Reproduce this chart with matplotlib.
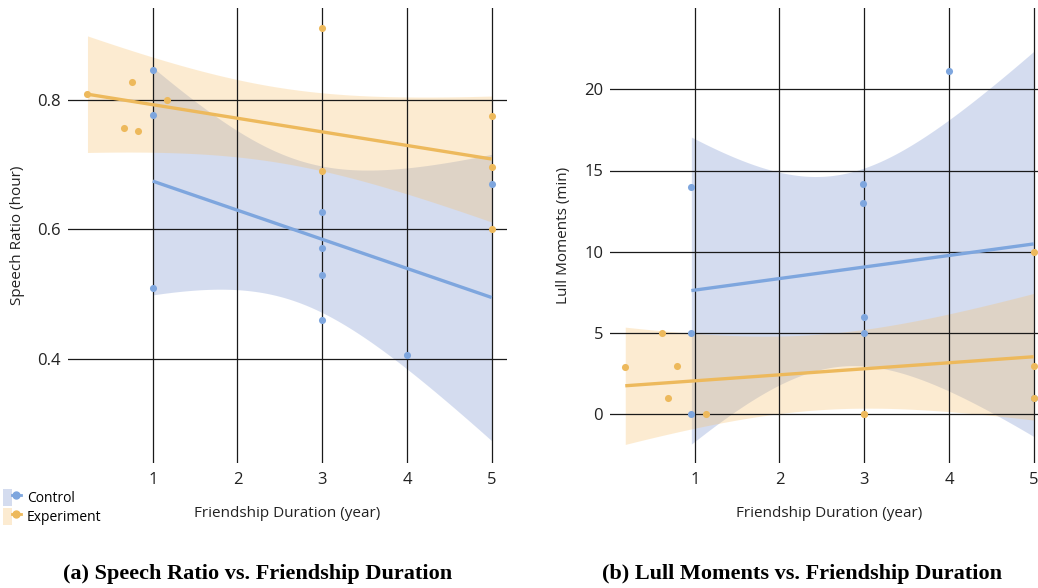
import matplotlib
matplotlib.use("Agg")
import matplotlib.pyplot as plt
import numpy as np
from math import gamma, pi, sqrt
from matplotlib.patches import Patch
from matplotlib.lines import Line2D
from matplotlib.legend_handler import HandlerTuple

# ---- data ----
left_ctrl_x = [1, 1, 1, 3, 3, 3, 3, 4, 5]
left_ctrl_y = [0.845, 0.776, 0.51, 0.626, 0.572, 0.530, 0.461, 0.406, 0.670]
left_exp_x = [0.23, 0.66, 0.75, 0.83, 1.17, 3, 3, 5, 5, 5]
left_exp_y = [0.809, 0.756, 0.827, 0.751, 0.800, 0.910, 0.690, 0.775, 0.696, 0.600]

right_ctrl_x = [0.96, 0.96, 0.96, 2.98, 2.98, 3, 3, 4, 5]
right_ctrl_y = [14, 5, 0, 14.2, 13, 6, 5, 21.1, 1]
right_exp_x = [0.18, 0.61, 0.69, 0.79, 1.13, 3, 3, 5, 5, 5]
right_exp_y = [2.9, 5, 1, 3, 0, 0, 0, 10, 3, 1]

groups = ["Control", "Experiment"]
x_ticks = [1, 2, 3, 4, 5]
left_yticks = [0.4, 0.6, 0.8]
right_yticks = [0, 5, 10, 15, 20]

line_colors = {"Control": "#7ea6de", "Experiment": "#edb95c"}
band_colors = {"Control": "#738ecd", "Experiment": "#f8c069"}

plt.rcParams['font.family'] = ['Open Sans', 'DejaVu Sans']


def t_ppf(p, df):
    c = gamma((df + 1) / 2) / (sqrt(df * pi) * gamma(df / 2))
    xs = np.linspace(0, 20, 400001)
    pdf = c * (1 + xs ** 2 / df) ** (-(df + 1) / 2)
    cdf = 0.5 + np.concatenate([[0], np.cumsum((pdf[1:] + pdf[:-1]) / 2 * np.diff(xs))])
    return float(np.interp(p, cdf, xs))


def fit_band(xs, ys, level=0.95):
    x = np.asarray(xs, float)
    y = np.asarray(ys, float)
    n = len(x)
    b1, b0 = np.polyfit(x, y, 1)
    resid = y - (b0 + b1 * x)
    s = np.sqrt(np.sum(resid ** 2) / (n - 2))
    xbar = x.mean()
    sxx = np.sum((x - xbar) ** 2)
    grid = np.linspace(x.min(), x.max(), 200)
    yhat = b0 + b1 * grid
    tval = t_ppf(0.5 + level / 2, n - 2)
    half = tval * s * np.sqrt(1 / n + (grid - xbar) ** 2 / sxx)
    return grid, yhat, yhat - half, yhat + half


fig = plt.figure(figsize=(10.38, 5.88), dpi=100)
W, H = 1038, 588
axL = fig.add_axes([68 / W, 1 - 463 / H, 439 / W, 455 / H])
axR = fig.add_axes([610 / W, 1 - 463 / H, 439 / W, 455 / H])


def draw(ax, data, ylabel, yticks, ylim):
    for g, (xs, ys) in zip(groups, data):
        grid, yhat, lo, hi = fit_band(xs, ys)
        ax.fill_between(grid, lo, hi, color=band_colors[g], alpha=0.3,
                        linewidth=0, zorder=1)
        ax.plot(grid, yhat, color=line_colors[g], lw=2.4, zorder=2.6,
                solid_capstyle="butt")
        ax.scatter(xs, ys, s=26, color=line_colors[g], linewidths=0, zorder=3)
    ax.set_xlim(0, 5.18)
    ax.set_ylim(*ylim)
    ax.set_xticks(x_ticks)
    ax.set_yticks(yticks)
    ax.set_xticklabels([str(t) for t in x_ticks])
    ax.set_yticklabels([f"{t:g}" for t in yticks])
    ax.grid(True, color="#1a1a1a", lw=0.9)
    ax.set_axisbelow("line")
    for s in ax.spines.values():
        s.set_visible(False)
    ax.tick_params(length=0, labelsize=12, colors="#222222", pad=5)
    ax.tick_params(axis="x", pad=6.5)
    ax.set_xlabel("Friendship Duration (year)", fontsize=11, color="#222222", labelpad=13)
    ax.set_ylabel(ylabel, fontsize=11, color="#222222", labelpad=9)


draw(axL, [(left_ctrl_x, left_ctrl_y), (left_exp_x, left_exp_y)],
     "Speech Ratio (hour)", left_yticks, (0.24, 0.941))
draw(axR, [(right_ctrl_x, right_ctrl_y), (right_exp_x, right_exp_y)],
     "Lull Moments (min)", right_yticks, (-3, 25))

handles = []
for g in groups:
    p = Patch(facecolor=band_colors[g], alpha=0.3, edgecolor="none")
    l = Line2D([], [], color=line_colors[g], lw=2, marker="o", markersize=5)
    handles.append((p, l))
fig.legend(handles, groups, handler_map={tuple: HandlerTuple(ndivide=None, pad=0)},
           loc="upper left", bbox_to_anchor=(0.0, 1 - 486 / H), frameon=False,
           fontsize=10, handlelength=1.3, handleheight=1.5, handletextpad=0.45,
           labelspacing=0.15, borderpad=0.2, borderaxespad=0)

cap_font = ['Liberation Serif', 'DejaVu Serif']
fig.text(257.5 / W, 1 - 574 / H, "(a) Speech Ratio vs. Friendship Duration",
         ha="center", va="center", fontsize=16, fontweight="bold", family=cap_font)
fig.text(801.5 / W, 1 - 574 / H, "(b) Lull Moments vs. Friendship Duration",
         ha="center", va="center", fontsize=16, fontweight="bold", family=cap_font)

fig.savefig("out.png", dpi=100)
